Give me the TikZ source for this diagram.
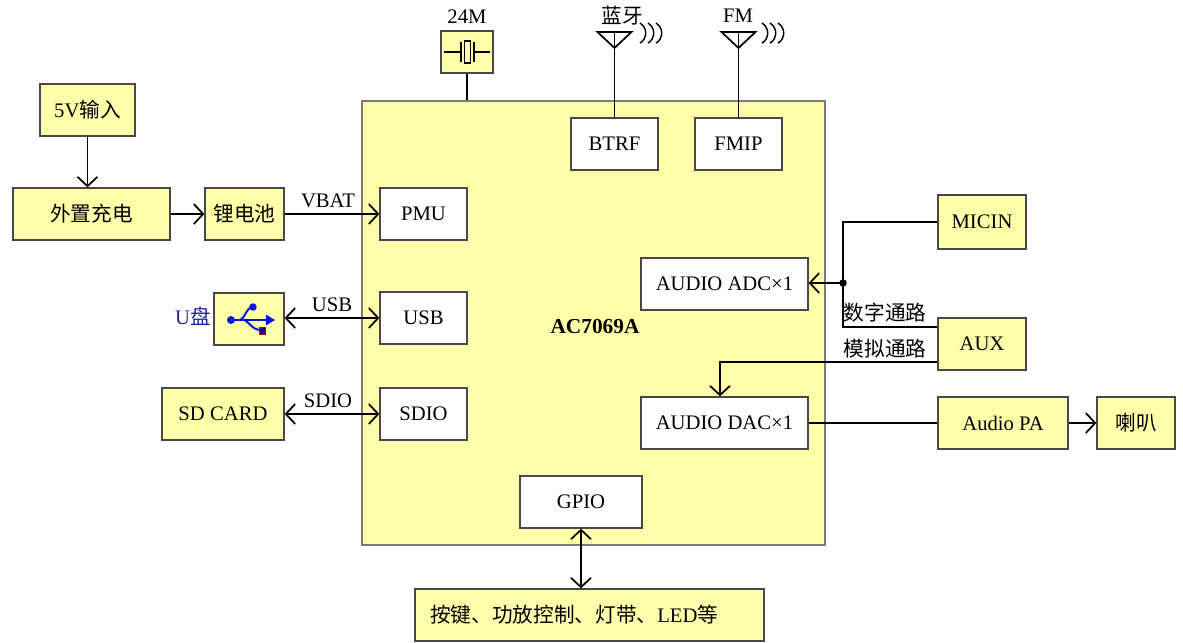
\documentclass[tikz,border=0pt]{standalone}
\usepackage{fontspec}
\setmainfont{Liberation Serif}
\newfontfamily\cjk{Noto Sans CJK SC}
\usetikzlibrary{arrows.meta,calc}
\definecolor{yel}{HTML}{FFFFAA}
\definecolor{bord}{HTML}{484848}
\definecolor{chipbord}{HTML}{7A7A7A}
\definecolor{usbblue}{HTML}{0A14D8}
\definecolor{ublue}{HTML}{2020A0}
\newcommand{\zh}[1]{{\cjk #1}}
\begin{document}
\begin{tikzpicture}[x=0.75pt,y=-0.75pt,
  every node/.style={font=\fontsize{15.5}{18}\selectfont},
  boxbase/.style={draw=bord, line width=1pt, inner sep=0pt, minimum height=39pt},
  ybox/.style={boxbase, fill=yel},
  wbox/.style={boxbase, fill=white},
  conn/.style={line width=1.3pt, black},
  arr/.style={conn, -{Straight Barb[length=7pt,width=15pt,line width=1.3pt]}},
  darr/.style={conn, {Straight Barb[length=7pt,width=15pt,line width=1.3pt]}-{Straight Barb[length=7pt,width=15pt,line width=1.3pt]}},
  lbl/.style={inner sep=0pt}
]
\useasboundingbox (0,0) rectangle (1183,643);
% main chip
\node[draw=chipbord, fill=yel, line width=1.1pt, minimum width=347.25pt, minimum height=333pt, inner sep=0pt] (chip) at (593.5,323) {};
\node[lbl, font=\bfseries\fontsize{16}{18}\selectfont] (chiplbl) at (595,327) {AC7069A};
% inner blocks
\node[wbox, minimum width=65.25pt] (btrf) at (614.5,144) {BTRF};
\node[wbox, minimum width=65.25pt] (fmip) at (738.5,144) {FMIP};
\node[wbox, minimum width=65.25pt] (pmu) at (423.5,214) {PMU};
\node[wbox, minimum width=65.25pt] (usb) at (423.5,318) {USB};
\node[wbox, minimum width=65.25pt] (sdio) at (423.5,414) {SDIO};
\node[wbox, minimum width=125.25pt] (adc) at (724.5,284) {AUDIO ADC×1};
\node[wbox, minimum width=125.25pt] (dac) at (724.5,423) {AUDIO DAC×1};
\node[wbox, minimum width=91.5pt] (gpio) at (581,502) {GPIO};
% outer blocks
\node[ybox, text width=239.25pt, inner xsep=11.25pt, align=left] (io) at (589.5,615) {\zh{按键、功放控制、灯带、}LED\zh{等}};
\node[ybox, minimum width=71.25pt] (v5) at (87.5,110) {5V\zh{输入}};
\node[ybox, minimum width=117.75pt] (chg) at (91.5,214) {\zh{外置充电}};
\node[ybox, minimum width=59.25pt] (bat) at (244.5,214) {\zh{锂电池}};
\node[ybox, minimum width=52.5pt] (uicon) at (249,319) {};
\node[ybox, minimum width=91.5pt] (sd) at (223,414) {SD CARD};
\node[ybox, minimum width=66pt, minimum height=40.5pt] (micin) at (982,222) {MICIN};
\node[ybox, minimum width=66pt] (aux) at (982,344) {AUX};
\node[ybox, minimum width=97.5pt] (pa) at (1003,423) {Audio PA};
\node[ybox, minimum width=58.5pt] (spk) at (1136,423) {\zh{喇叭}};
\node[ybox, minimum width=39pt, minimum height=31.5pt] (xtal) at (467,52) {};
% labels
\node[lbl] (l24m) at (467,17) {24M};
\node[lbl] (lbt) at (622,16) {\zh{蓝牙}};
\node[lbl] (lfm) at (738,16) {FM};
\node[lbl] (lvbat) at (328,201) {VBAT};
\node[lbl] (lusb) at (332,305) {USB};
\node[lbl] (lsdio) at (328,401) {SDIO};
\node[lbl, text=ublue] (lu) at (193,316) {U\zh{盘}};
\node[lbl] (ldig) at (885,313) {\zh{数字通路}};
\node[lbl] (lana) at (885,349) {\zh{模拟通路}};
% crystal symbol
\draw[conn] (444,52) -- (461,52) (461,42) -- (461,62) (474,42) -- (474,62) (474,52) -- (490,52);
\draw[conn] (464.5,41) rectangle (470.5,63);
\draw[conn] (xtal.south) -- (xtal.south |- chip.north);
% antennas
\coordinate (bta) at (614.5,32);
\coordinate (fma) at (738.5,32);
\draw[conn, line join=miter] ($(bta)+(-17,0)$) -- ($(bta)+(17,0)$) -- ($(bta)+(0,16)$) -- cycle;
\draw[conn] (bta) -- (btrf.north);
\draw[conn, line join=miter] ($(fma)+(-17,0)$) -- ($(fma)+(17,0)$) -- ($(fma)+(0,16)$) -- cycle;
\draw[conn] (fma) -- (fmip.north);
\foreach \xx in {640,648,656,762,770,778}
  \draw[line width=1.1pt] (\xx,23) arc[start angle=60,end angle=-60,radius=8.7pt];
% USB icon
\begin{scope}[usbblue]
\fill (231,320) circle[radius=3pt];
\draw[line width=1.5pt] (231,320) -- (268,320);
\fill (266,314.5) -- (275,320) -- (266,325.5) -- cycle;
\draw[line width=1.5pt] (240,320) .. controls (246,318) and (245,308) .. (253,307);
\fill (253,307) circle[radius=2.8pt];
\draw[line width=1.5pt] (245,320) .. controls (250,324) and (253,329) .. (259,330);
\end{scope}
\filldraw[fill=usbblue!60!black, draw=red!75!black, line width=0.7pt] (259,327) rectangle (265,334);
% connectors
\draw[arr] (v5.south) -- (chg.north -| v5.south);
\draw[arr] (chg.east) -- (bat.west);
\draw[arr] (bat.east) -- (pmu.west);
\draw[darr] (uicon.east |- usb.west) -- (usb.west);
\draw[darr] (sd.east) -- (sdio.west);
\draw[darr] (gpio.south) -- (io.north -| gpio.south);
\coordinate (jd) at (843,283);
\draw[conn] (micin.west) -| (jd) |- ($(aux.west)+(0,-17)$);
\fill (jd) circle[radius=2.8pt];
\draw[arr] (jd) -- (adc.east |- jd);
\draw[arr] ($(aux.west)+(0,18)$) -| ($(dac.north)+(-4.5,0)$);
\draw[conn] (dac.east) -- (pa.west);
\draw[arr] (pa.east) -- (spk.west);
\end{tikzpicture}
\end{document}
